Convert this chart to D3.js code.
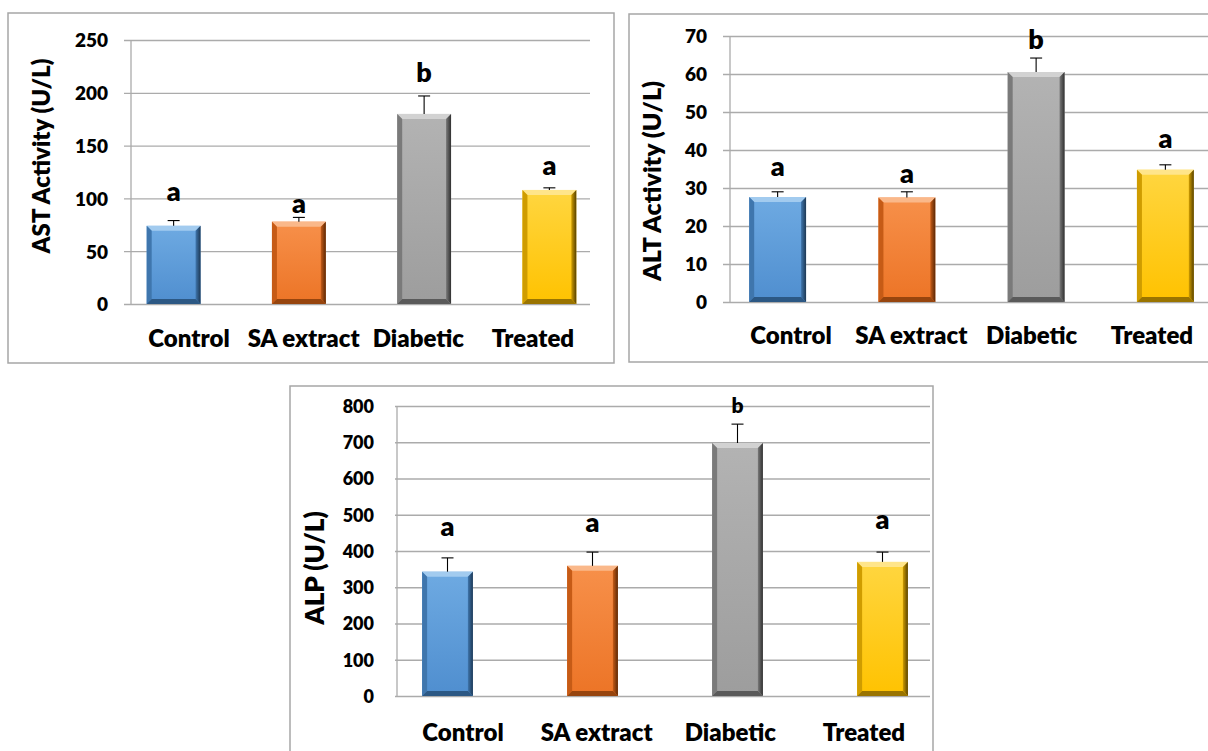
<!DOCTYPE html>
<html>
<head>
<meta charset="utf-8">
<script src="https://cdn.jsdelivr.net/npm/d3@7"></script>
<style>
  html, body { margin: 0; padding: 0; background: #ffffff; }
  svg { display: block; }
  text { font-family: Lato, "Open Sans", "DejaVu Sans", sans-serif; font-weight: 800; fill: #000; }
</style>
</head>
<body>
<svg id="chart" width="1208" height="751"></svg>
<script>
// ---------------- DATA ----------------
const categories = ["Control", "SA extract", "Diabetic", "Treated"];

const astValues = [74, 78, 180, 108];
const astErrors = [5, 4, 17, 2];
const astLetters = ["a", "a", "b", "a"];
const astLetterAt = [97.5, 86, 210, 122];
const astTicks = [0, 50, 100, 150, 200, 250];
const astTitle = "AST Activity (U/L)";

const altValues = [27.6, 27.5, 60.5, 34.8];
const altErrors = [1.4, 1.5, 3.7, 1.3];
const altLetters = ["a", "a", "b", "a"];
const altLetterAt = [33.2, 31.3, 66.6, 40.5];
const altTicks = [0, 10, 20, 30, 40, 50, 60, 70];
const altTitle = "ALT Activity (U/L)";

const alpValues = [343, 359, 698, 370];
const alpErrors = [38, 38, 52, 27];
const alpLetters = ["a", "a", "b", "a"];
const alpLetterAt = [441, 452, 781, 461];
const alpTicks = [0, 100, 200, 300, 400, 500, 600, 700, 800];
const alpTitle = "ALP (U/L)";

// ---------------- STYLE ----------------
const palettes = [
  { top: "#a2cbef", g1: "#6eaae2", g2: "#4f8ecf", left: "#3f76ad", right: "#1d3854", bottom: "#2c5884" },
  { top: "#fab88a", g1: "#f7904a", g2: "#ec7426", left: "#c65b16", right: "#5a2806", bottom: "#97450e" },
  { top: "#d2d2d2", g1: "#b3b3b3", g2: "#9d9d9d", left: "#7a7a7a", right: "#303030", bottom: "#5a5a5a" },
  { top: "#ffe58a", g1: "#ffd640", g2: "#ffc200", left: "#cf9c00", right: "#574100", bottom: "#9a7400" }
];
const gridColor = "#ababab";
const borderColor = "#a6a6a6";

const svg = d3.select("#chart");
svg.append("rect").attr("width", 1208).attr("height", 751).attr("fill", "#fff");

const defs = svg.append("defs");
palettes.forEach((p, i) => {
  const g = defs.append("linearGradient").attr("id", "main" + i)
    .attr("x1", 0).attr("y1", 0).attr("x2", 0).attr("y2", 1);
  g.append("stop").attr("offset", "0%").attr("stop-color", p.g1);
  g.append("stop").attr("offset", "100%").attr("stop-color", p.g2);
  const r = defs.append("linearGradient").attr("id", "right" + i)
    .attr("x1", 0).attr("y1", 0).attr("x2", 1).attr("y2", 0);
  r.append("stop").attr("offset", "0%").attr("stop-color", p.left);
  r.append("stop").attr("offset", "100%").attr("stop-color", p.right);
});

function drawPanel(cfg) {
  const g = svg.append("g");
  g.append("rect")
    .attr("x", cfg.box[0]).attr("y", cfg.box[1])
    .attr("width", cfg.box[2]).attr("height", cfg.box[3])
    .attr("fill", "none").attr("stroke", borderColor).attr("stroke-width", 1.5);

  const y = d3.scaleLinear().domain(cfg.domain).range(cfg.yRange);
  const x = d3.scaleBand().domain(categories).range(cfg.xRange)
    .paddingInner(cfg.pad).paddingOuter(cfg.pad / 2);
  const xl = d3.scalePoint().domain(categories).range(cfg.labelRange);

  const axis = d3.axisLeft(y).tickValues(cfg.ticks)
    .tickSize(-(cfg.gridEnd - cfg.axisX))
    .tickFormat(d3.format("d"));
  const ag = g.append("g").attr("transform", `translate(${cfg.axisX},0)`).call(axis);
  ag.select(".domain").remove();
  ag.selectAll(".tick line").attr("stroke", gridColor).attr("stroke-width", 1.3)
    .attr("x1", -cfg.tickOut);
  ag.selectAll(".tick text").attr("x", -23).attr("dy", "0.36em")
    .style("font-size", cfg.tickFont + "px").attr("fill", "#000");
  g.append("line").attr("x1", cfg.axisX).attr("x2", cfg.axisX)
    .attr("y1", y(cfg.domain[1])).attr("y2", y(0))
    .attr("stroke", gridColor).attr("stroke-width", 1.3);

  const b = 5;
  cfg.values.forEach((v, i) => {
    const bx = x(categories[i]), bw = x.bandwidth();
    const by = y(v), bh = y(0) - y(v);
    const p = palettes[i];
    const bg = g.append("g");
    bg.append("rect").attr("x", bx).attr("y", by).attr("width", bw).attr("height", bh)
      .attr("fill", `url(#main${i})`);
    const poly = (pts, fill) => bg.append("polygon")
      .attr("points", pts.map(q => q.join(",")).join(" ")).attr("fill", fill);
    poly([[bx, by], [bx + bw, by], [bx + bw - b, by + b], [bx + b, by + b]], p.top);
    poly([[bx, by], [bx + b, by + b], [bx + b, by + bh - b], [bx, by + bh]], p.left);
    poly([[bx + bw, by], [bx + bw, by + bh], [bx + bw - b, by + bh - b], [bx + bw - b, by + b]], `url(#right${i})`);
    poly([[bx, by + bh], [bx + b, by + bh - b], [bx + bw - b, by + bh - b], [bx + bw, by + bh]], p.bottom);

    const cx = bx + bw / 2;
    const ey = y(v + cfg.errors[i]);
    g.append("line").attr("x1", cx).attr("x2", cx).attr("y1", by).attr("y2", ey)
      .attr("stroke", "#000").attr("stroke-width", 1.1);
    g.append("line").attr("x1", cx - 6).attr("x2", cx + 6).attr("y1", ey).attr("y2", ey)
      .attr("stroke", "#000").attr("stroke-width", 1.1);

    g.append("text").attr("x", cx).attr("y", y(cfg.letterAt[i]))
      .attr("text-anchor", "middle")
      .style("font-size", (cfg.letters[i] === "b" && cfg.smallB ? cfg.smallB : cfg.letterFont) + "px")
      .text(cfg.letters[i]);
  });

  categories.forEach(c => {
    g.append("text").attr("x", xl(c)).attr("y", cfg.labelY)
      .attr("text-anchor", "middle").style("font-size", cfg.catFont + "px").text(c);
  });

  g.append("text")
    .attr("transform", `translate(${cfg.titlePos[0]},${cfg.titlePos[1]}) rotate(-90)`)
    .attr("text-anchor", "middle").attr("dy", "0.35em")
    .style("font-size", cfg.titleFont + "px").text(cfg.title);
}

drawPanel({
  box: [8, 13, 606, 350],
  domain: [0, 250], yRange: [304, 40], ticks: astTicks,
  axisX: 131, gridEnd: 590, tickOut: 7, tickFont: 19,
  xRange: [111, 612], pad: 0.57, labelRange: [189, 533], labelY: 347, catFont: 24,
  values: astValues, errors: astErrors, letters: astLetters, letterAt: astLetterAt, letterFont: 27,
  title: astTitle, titlePos: [42, 156], titleFont: 24
});

drawPanel({
  box: [629, 14, 600, 348],
  domain: [0, 70], yRange: [302, 36], ticks: altTicks,
  axisX: 730, gridEnd: 1210, tickOut: 7, tickFont: 19,
  xRange: [713, 1230], pad: 0.56, labelRange: [791, 1152], labelY: 344, catFont: 24,
  values: altValues, errors: altErrors, letters: altLetters, letterAt: altLetterAt, letterFont: 27,
  title: altTitle, titlePos: [652, 181], titleFont: 25
});

drawPanel({
  box: [290, 386, 643, 400],
  domain: [0, 800], yRange: [696, 406], ticks: alpTicks,
  axisX: 397, gridEnd: 930, tickOut: 2, tickFont: 18,
  xRange: [375, 955], pad: 0.65, labelRange: [463, 864], labelY: 741, catFont: 24,
  values: alpValues, errors: alpErrors, letters: alpLetters, letterAt: alpLetterAt, letterFont: 27, smallB: 21,
  title: alpTitle, titlePos: [315, 568], titleFont: 26
});
</script>
</body>
</html>
